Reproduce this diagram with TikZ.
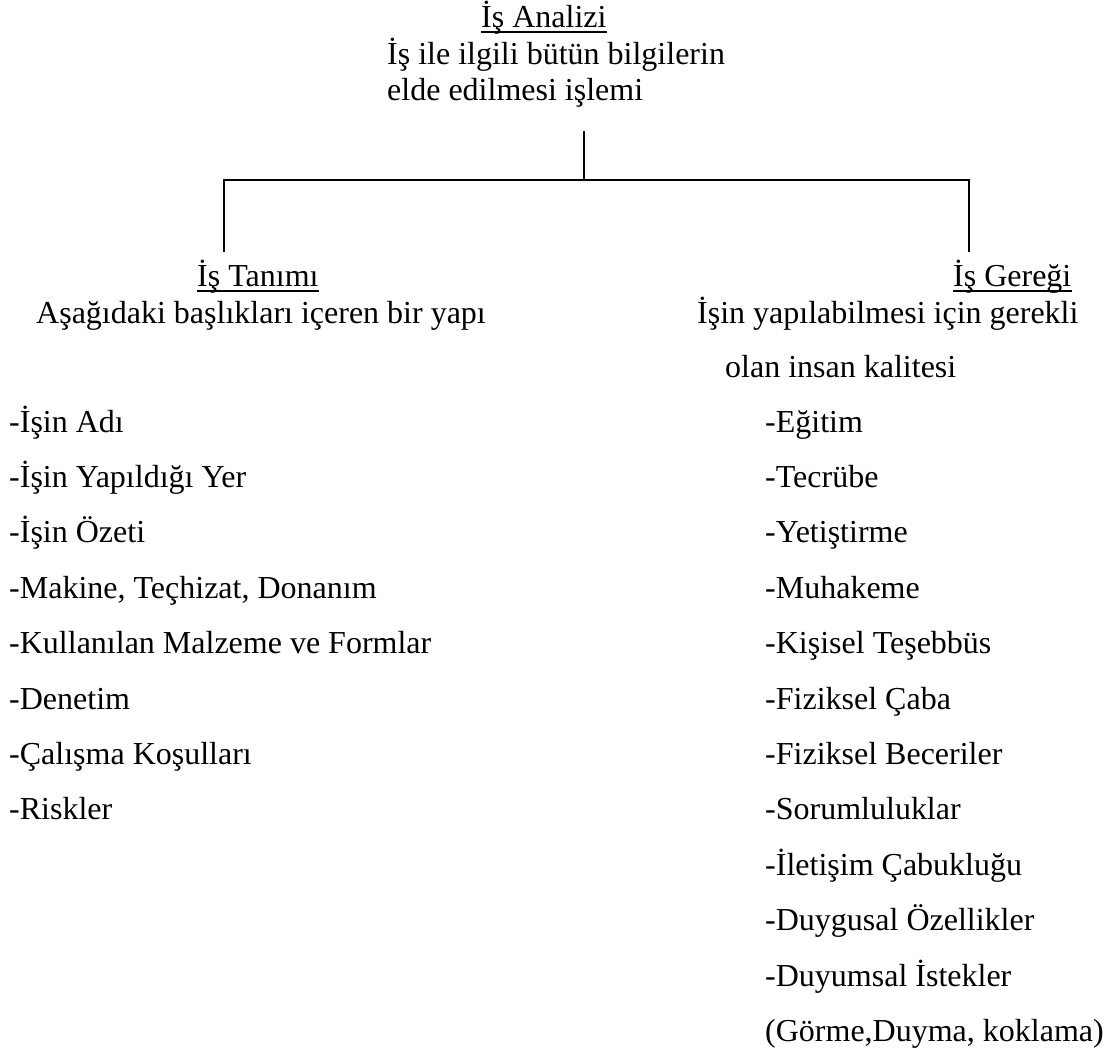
\documentclass[tikz,border=0pt]{standalone}
\usepackage{fontspec}
\setmainfont{Liberation Serif}
\begin{document}
\begin{tikzpicture}[x=1pt,y=-1pt,
  txt/.style={anchor=base west, inner sep=0pt, font=\fontsize{32}{37}\selectfont},
  conn/.style={line width=1.3pt},
  ul/.style={line width=1.4pt}]
\useasboundingbox (0,0) rectangle (1114,1055);
% top
\node[txt] (analiz) at (481,27) {İş Analizi};
\node[txt] (analiz2) at (387,64) {İş ile ilgili bütün bilgilerin};
\node[txt] (analiz3) at (387,100) {elde edilmesi işlemi};
% left head
\node[txt] (tanim) at (197,286) {İş Tanımı};
\node[txt] (tanim2) at (36,323) {Aşağıdaki başlıkları içeren bir yapı};
% right head
\node[txt] (gerek) at (953,286) {İş Gereği};
\node[txt] (gerek2) at (697,323) {İşin yapılabilmesi için gerekli};
\node[txt] (gerek3) at (725,377) {olan insan kalitesi};
% underlines
\foreach \n in {analiz,tanim,gerek}
  \draw[ul] ([yshift=-5pt]\n.base west) -- ([yshift=-5pt]\n.base east);
% left list
\foreach \t [count=\i from 0] in {-İşin Adı,-İşin Yapıldığı Yer,-İşin Özeti,{-Makine, Teçhizat, Donanım},-Kullanılan Malzeme ve Formlar,-Denetim,-Çalışma Koşulları,-Riskler}
  \node[txt] (l\i) at (9,432+55.4*\i) {\t};
% right list
\foreach \t [count=\i from 0] in {-Eğitim,-Tecrübe,-Yetiştirme,-Muhakeme,-Kişisel Teşebbüs,-Fiziksel Çaba,-Fiziksel Beceriler,-Sorumluluklar,-İletişim Çabukluğu,-Duygusal Özellikler,-Duyumsal İstekler,{(Görme,Duyma, koklama)}}
  \node[txt] (r\i) at (765,432+55.4*\i) {\t};
% connectors
\coordinate (top) at (584,131);
\coordinate (hub) at (584,180);
\coordinate (lt) at (224,180);
\coordinate (rt) at (969,180);
\coordinate (lb) at (224,252);
\coordinate (rb) at (969,252);
\draw[conn] (top) -- (hub);
\draw[conn] (lb) -- (lt) -- (rt) -- (rb);
\end{tikzpicture}
\end{document}
